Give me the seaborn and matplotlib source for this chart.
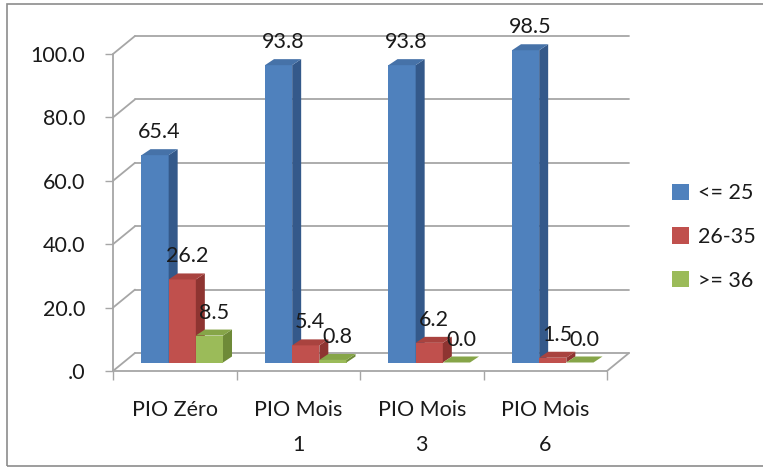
import pandas as pd
import seaborn as sns
import matplotlib.pyplot as plt
from matplotlib.patches import Polygon, Patch, Rectangle

sns.set_theme(style="white")
plt.rcParams["font.family"] = ["Lato", "DejaVu Sans"]

# data
categories = ["PIO Zéro", "PIO Mois\n1", "PIO Mois\n3", "PIO Mois\n6"]
groups = ["<= 25", "26-35", ">= 36"]
le_25 = [65.4, 93.8, 93.8, 98.5]
g26_35 = [26.2, 5.4, 6.2, 1.5]
ge_36 = [8.5, 0.8, 0.0, 0.0]
yticks = [0, 20, 40, 60, 80, 100]

front_cols = ["#4F81BD", "#C0504D", "#9BBB59"]
side_cols = ["#34598A", "#8E3431", "#6E8A38"]
top_cols = ["#4672A8", "#A9433F", "#86A548"]
grid_col = "#a6a6a6"
text_col = "#1a1a1a"
fs = 15.5

rows = []
for g, vals in zip(groups, [le_25, g26_35, ge_36]):
    for c, v in zip(categories, vals):
        rows.append({"cat": c, "grp": g, "val": v})
df = pd.DataFrame(rows)

W, H = 763, 468
fig = plt.figure(figsize=(W / 100, H / 100), dpi=100)
# axes = front plane of the 3D box
ax = fig.add_axes([113 / W, (H - 371) / H, 494 / W, 317 / H])

sns.barplot(data=df, x="cat", y="val", hue="grp", palette=front_cols,
            width=0.66, saturation=1, legend=False, ax=ax)
ax.set_xlim(-0.5, 3.5)
ax.set_ylim(0, 100)

# pixel -> data unit conversion
ux = 4 / 494
uy = 100 / 317
wx, wy = 22 * ux, 18 * uy   # wall depth
bx, by = 7.5 * ux, 8.5 * uy  # bar position inside depth
dx, dy = 9 * ux, 6 * uy      # bar depth

for s in ax.spines.values():
    s.set_visible(False)

lw = 1.3
# back wall gridlines and left wall
for v in yticks:
    ax.plot([-0.5 + wx, 3.5 + wx], [v + wy, v + wy], color=grid_col, lw=lw,
            clip_on=False, zorder=0)
    ax.plot([-0.5, -0.5 + wx], [v, v + wy], color=grid_col, lw=lw,
            clip_on=False, zorder=0)
# floor and front axis
ax.plot([-0.5, 3.5], [0, 0], color=grid_col, lw=lw, clip_on=False, zorder=0.5)
ax.plot([3.5, 3.5 + wx], [0, wy], color=grid_col, lw=lw, clip_on=False, zorder=0.5)
ax.plot([-0.5, -0.5], [0, 100], color=grid_col, lw=lw, clip_on=False, zorder=0.5)

# 3D faces on bars
for i, cont in enumerate(ax.containers):
    for p in cont.patches:
        x0 = p.get_x() + bx
        w = p.get_width()
        h = p.get_height()
        p.set_x(x0)
        p.set_y(by)
        p.set_edgecolor("none")
        p.set_clip_on(False)
        p.set_zorder(2 + i)
        x1 = x0 + w
        side = Polygon([(x1, by), (x1, h + by), (x1 + dx, h + by + dy), (x1 + dx, by + dy)],
                       closed=True, facecolor=side_cols[i], edgecolor="none",
                       clip_on=False, zorder=2 + i)
        top = Polygon([(x0, h + by), (x1, h + by), (x1 + dx, h + by + dy), (x0 + dx, h + by + dy)],
                      closed=True, facecolor=top_cols[i], edgecolor="none",
                      clip_on=False, zorder=2 + i)
        ax.add_patch(side)
        ax.add_patch(top)
        ax.text(x0 + w / 2 + dx / 2, h + by + dy + 7 * uy, f"{h:.1f}",
                ha="center", va="bottom", fontsize=fs, color=text_col, zorder=10)

# ticks
ax.set_yticks(yticks)
ax.set_yticklabels([f"{v:.1f}".lstrip("0") for v in yticks])
ax.tick_params(axis="y", left=True, length=5.8, width=1, color=grid_col,
               pad=14, labelsize=fs, labelcolor=text_col)
ax.set_xticks(range(len(categories)))
ax.set_xticklabels(categories, linespacing=1.9)
ax.set_xticks([-0.5, 0.5, 1.5, 2.5, 3.5], minor=True)
ax.tick_params(axis="x", which="major", length=0, pad=21, labelsize=fs,
               labelcolor=text_col)
ax.tick_params(axis="x", which="minor", bottom=True, length=6.5, width=1, color=grid_col)
ax.set_xlabel("")
ax.set_ylabel("")

handles = [Patch(facecolor=c, edgecolor="none") for c in front_cols]
ax.legend(handles, groups, loc="center left", bbox_to_anchor=(672 / W, (H - 237) / H),
          bbox_transform=fig.transFigure, frameon=False, fontsize=fs,
          labelspacing=1.1, handlelength=0.8, handleheight=0.8,
          handletextpad=0.4, borderpad=0, borderaxespad=0, labelcolor=text_col)

# chart frame (right edge lies outside the picture)
fig.add_artist(Rectangle((7 / W, 2 / H), 1.0, 462 / H, transform=fig.transFigure,
                         fill=False, edgecolor="#8c8c8c", lw=1.2))

fig.savefig("out.png", dpi=100)
